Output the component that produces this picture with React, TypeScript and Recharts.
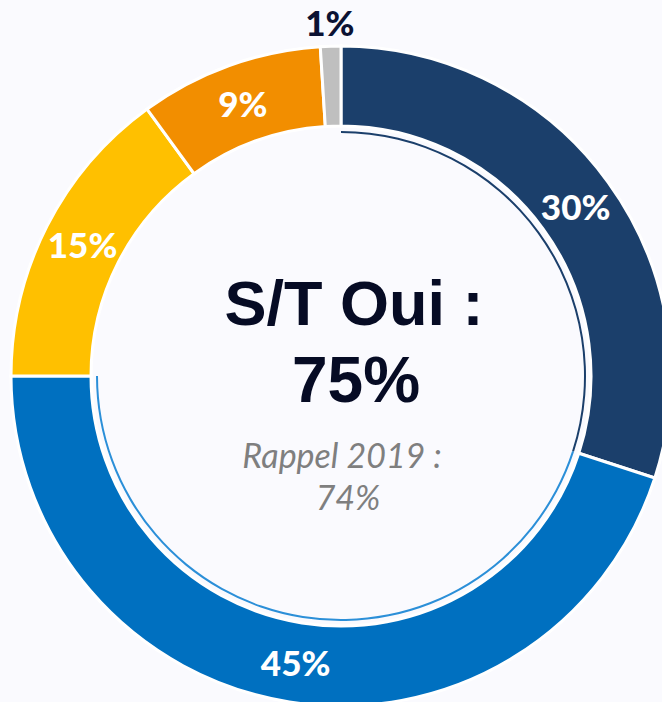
import React from 'react';
import { PieChart, Pie, Cell } from 'recharts';

const categories = ['Tout à fait', 'Plutôt oui', 'Plutôt non', 'Pas du tout', 'NSP'];
const shares = [30, 45, 15, 9, 1];
const sliceColors = ['#1b3f6b', '#0070c0', '#ffc000', '#f28e00', '#bfbfbf'];

// thin inner ring under the "S/T Oui" part
const ringKeys = ['S/T Oui', 'Reste'];
const ringShares = [30, 45, 25];
const ringColors = ['#1b3f6b', '#2b8fd8', 'transparent'];

const mainTitle = 'S/T Oui :';
const mainValue = '75%';
const recallTitle = 'Rappel 2019 :';
const recallValue = '74%';

const pieData = categories.map((name, i) => ({ name, value: shares[i] }));
const ringData = ringShares.map((value, i) => ({ name: ringKeys[i] ?? 'vide', value }));

const RAD = Math.PI / 180;

const renderLabel = (props: any) => {
  const { cx, cy, midAngle, innerRadius, outerRadius, value } = props;
  const small = value < 2;
  const r = small ? outerRadius + 24 : (innerRadius + outerRadius) / 2;
  const x = cx + r * Math.cos(-midAngle * RAD);
  const y = cy + r * Math.sin(-midAngle * RAD);
  return (
    <text
      x={x}
      y={y}
      fill={small ? '#0b1233' : '#ffffff'}
      textAnchor="middle"
      dominantBaseline="central"
      style={{ fontFamily: 'Lato, sans-serif', fontWeight: 900, fontSize: 35 }}
    >
      {value}%
    </text>
  );
};

const App: React.FC = () => {
  return (
    <div
      style={{
        position: 'fixed',
        top: 0,
        left: 0,
        width: 662,
        height: 702,
        overflow: 'hidden',
        background: '#fafafe',
      }}
    >
      <PieChart width={662} height={702} margin={{ top: 0, right: 0, bottom: 0, left: 0 }}>
        <Pie
          data={ringData}
          dataKey="value"
          cx={341}
          cy={376}
          startAngle={90}
          endAngle={-270}
          innerRadius={243}
          outerRadius={245}
          stroke="none"
          isAnimationActive={false}
        >
          {ringData.map((d, i) => (
            <Cell key={d.name + i} fill={ringColors[i]} />
          ))}
        </Pie>
        <Pie
          data={pieData}
          dataKey="value"
          cx={341}
          cy={376}
          startAngle={90}
          endAngle={-270}
          innerRadius={250}
          outerRadius={330}
          stroke="#ffffff"
          strokeWidth={3}
          label={renderLabel}
          labelLine={false}
          isAnimationActive={false}
        >
          {pieData.map((d, i) => (
            <Cell key={d.name} fill={sliceColors[i]} />
          ))}
        </Pie>
      </PieChart>
      <svg
        width={662}
        height={702}
        style={{ position: 'absolute', top: 0, left: 0, pointerEvents: 'none' }}
      >
        <g style={{ fontFamily: '"Liberation Sans", Arial, sans-serif', fontWeight: 700 }} fill="#060b24">
          <text x={354} y={325} textAnchor="middle" fontSize={63}>{mainTitle}</text>
          <text x={356} y={402} textAnchor="middle" fontSize={64}>{mainValue}</text>
        </g>
        <g style={{ fontFamily: 'Lato, sans-serif', fontStyle: 'italic' }} fill="#7f7f7f">
          <text x={342} y={468} textAnchor="middle" fontSize={34}>{recallTitle}</text>
          <text x={348} y={510} textAnchor="middle" fontSize={34}>{recallValue}</text>
        </g>
      </svg>
    </div>
  );
};

export default App;
